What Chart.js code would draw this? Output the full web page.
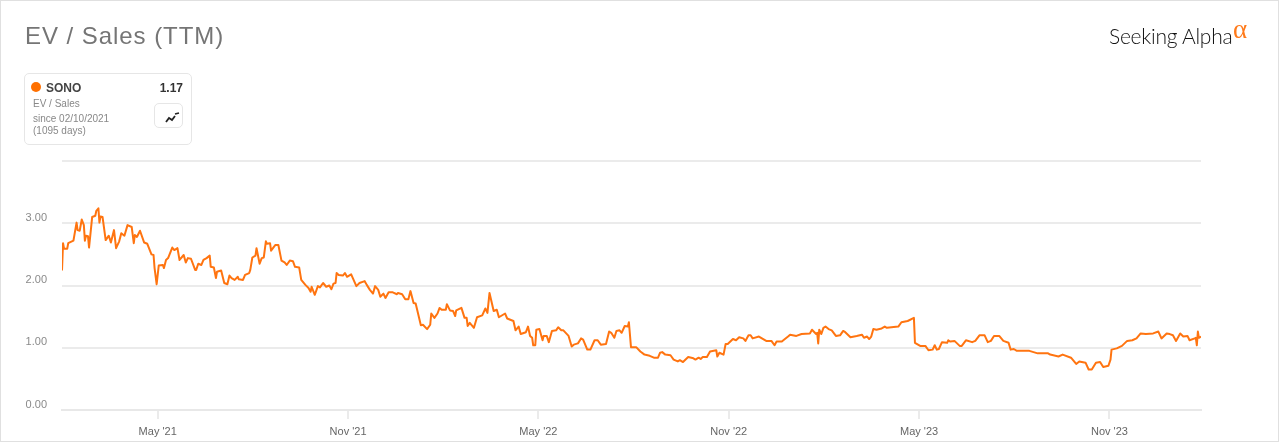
<!DOCTYPE html>
<html>
<head>
<meta charset="utf-8">
<title>EV / Sales (TTM)</title>
<script src="https://cdn.jsdelivr.net/npm/chart.js@4"></script>
<style>
html, body { margin: 0; padding: 0; background: #fff; }
#wrap { position: relative; width: 1280px; height: 442px; overflow: hidden; font-family: "Liberation Sans", Arial, sans-serif; }
#frame { position: absolute; left: 0; top: 0; width: 1277px; height: 440px; border: 1px solid #e0e0e0; }
#title { position: absolute; left: 25px; top: 22px; font-size: 24px; letter-spacing: 0.95px; color: #757575; line-height: 28px; }
#logo { position: absolute; left: 1109px; top: 22px; font-family: Lato, sans-serif; font-size: 21px; font-weight: 300; color: #111; line-height: 28px; letter-spacing: -0.25px; white-space: nowrap; }
#logo span { position: absolute; left: 124px; top: -7px; color: #ff7a1a; font-size: 27px; font-family: "Liberation Serif", serif; font-weight: normal; }
#box { position: absolute; left: 24px; top: 73px; width: 166px; height: 70px; border: 1px solid #e6e6e6; border-radius: 5px; background: #fff; }
#dot { position: absolute; left: 6px; top: 8px; width: 10px; height: 10px; border-radius: 50%; background: #ff7000; }
#sym { position: absolute; left: 21px; top: 7px; font-size: 12px; font-weight: bold; color: #444; }
#val { position: absolute; right: 8px; top: 7px; font-size: 12px; font-weight: bold; color: #333; }
#sub { position: absolute; left: 8px; top: 24px; font-size: 10px; color: #888; }
#since { position: absolute; left: 8px; top: 39px; font-size: 10px; line-height: 12px; color: #888; }
#btn { position: absolute; left: 129px; top: 29px; width: 27px; height: 23px; border: 1px solid #e6e6e6; border-radius: 5px; }
#btn svg { position: absolute; left: 0; top: 0; }
canvas { position: absolute; left: 0; top: 0; }
</style>
</head>
<body>
<div id="wrap">
  <canvas id="Activity" width="1280" height="442"></canvas>
  <div id="frame"></div>
  <div id="title">EV / Sales (TTM)</div>
  <div id="logo">Seeking Alpha<span>α</span></div>
  <div id="box">
    <div id="dot"></div>
    <div id="sym">SONO</div>
    <div id="val">1.17</div>
    <div id="sub">EV / Sales</div>
    <div id="since">since 02/10/2021<br>(1095 days)</div>
    <div id="btn"><svg width="27" height="23"><path d="M11 18 L14 14 L17 16 L20 12 M20 10 L24 9" fill="none" stroke="#222" stroke-width="1.8"/></svg></div>
  </div>
</div>
<script>
// day number on the axis
const days = [
  0,1,2,5,6,11,14,15,17,19,21,22,23,25,26,29,32,33,35,36,37,39,42,45,47,50,52,55,57,60,63,67,69,70,72,75,79,82,86,88,
  89,91,93,97,98,100,102,106,108,111,113,117,119,121,124,128,129,131,134,136,139,142,143,146,148,149,153,156,159,161,
  163,166,169,170,174,176,180,181,183,186,187,190,192,194,196,197,200,201,205,208,211,214,216,219,222,224,228,230,234,237,
  239,240,243,246,248,251,254,257,259,261,263,264,266,270,272,274,278,283,286,291,293,296,299,301,304,306,309,311,314,318,
  322,323,327,330,333,335,338,340,345,347,351,354,355,358,361,363,365,369,370,373,376,378,379,384,387,389,390,392,396,399,
  404,407,409,411,415,418,420,426,428,434,436,439,441,446,448,450,452,453,455,456,459,462,463,466,468,471,475,477,480,482,
  487,490,492,496,499,501,505,508,512,515,518,523,526,528,531,533,536,538,541,544,545,547,552,556,560,565,569,573,
  575,577,580,585,588,592,594,597,602,607,609,612,614,616,620,623,629,630,632,636,638,640,645,648,651,655,657,660,662,664,
  670,677,682,685,687,692,698,700,706,711,719,721,725,726,727,728,730,732,734,737,740,744,748,751,753,758,764,769,771,774,
  776,778,780,783,788,791,793,804,807,813,819,820,825,830,833,837,839,841,843,846,851,852,854,858,863,865,869,875,878,882,
  887,890,893,896,901,905,910,912,915,918,925,930,938,948,950,958,962,970,975,978,984,987,990,994,998,1001,1006,1008,1009,1014,
  1019,1024,1029,1033,1037,1042,1049,1054,1057,1062,1065,1068,1071,1073,1075,1078,1082,1084,1089,1090,1091,1092,1093,1095
];
const evSales = [
  2.24,2.68,2.59,2.59,2.68,2.72,3.01,2.89,2.88,3.06,2.97,2.72,2.80,2.79,2.61,3.10,3.12,3.20,3.24,3.01,3.11,3.10,2.73,2.80,2.69,2.89,2.60,2.71,2.84,2.80,2.97,2.94,2.68,2.81,2.78,2.88,2.69,2.67,2.50,2.49,
  2.28,2.02,2.32,2.33,2.28,2.41,2.44,2.61,2.57,2.60,2.41,2.49,2.37,2.44,2.43,2.25,2.25,2.35,2.33,2.41,2.44,2.48,2.30,2.29,2.12,2.22,2.24,2.04,2.02,2.16,
  2.12,2.09,2.14,2.10,2.09,2.17,2.20,2.25,2.45,2.48,2.60,2.35,2.44,2.45,2.71,2.67,2.68,2.56,2.65,2.65,2.40,2.37,2.33,2.40,2.39,2.30,2.29,2.09,2.01,1.96,
  1.90,1.98,1.85,1.99,1.97,2.04,1.98,2.00,1.94,2.03,2.04,2.20,2.17,2.16,2.20,2.14,2.18,1.99,2.04,2.07,2.01,1.93,1.87,1.99,1.93,1.82,1.87,1.80,1.89,1.89,
  1.86,1.88,1.86,1.78,1.78,1.91,1.72,1.71,1.36,1.37,1.30,1.37,1.55,1.48,1.55,1.64,1.61,1.61,1.70,1.60,1.59,1.51,1.60,1.64,1.48,1.48,1.35,1.40,1.32,1.49,
  1.52,1.63,1.56,1.88,1.59,1.61,1.49,1.55,1.47,1.43,1.28,1.34,1.22,1.25,1.34,1.19,1.16,1.04,1.04,1.29,1.30,1.12,1.19,1.19,1.09,1.27,1.28,1.33,1.28,1.28,
  1.19,1.02,1.05,1.07,1.15,1.13,0.97,0.97,1.12,1.12,1.05,1.06,1.26,1.24,1.16,1.27,1.28,1.24,1.35,1.34,1.41,1.01,1.01,0.94,0.89,0.87,0.84,0.84,
  0.92,0.93,0.89,0.88,0.81,0.78,0.80,0.77,0.85,0.83,0.81,0.84,0.82,0.85,0.85,0.94,0.96,0.86,0.92,0.89,1.06,1.06,1.14,1.12,1.17,1.15,1.11,1.20,1.20,1.15,
  1.18,1.11,1.11,1.04,1.10,1.10,1.18,1.21,1.19,1.22,1.23,1.29,1.22,1.24,1.07,1.29,1.22,1.32,1.34,1.30,1.28,1.19,1.20,1.27,1.25,1.17,1.19,1.21,1.16,1.18,
  1.14,1.18,1.30,1.29,1.31,1.34,1.32,1.34,1.41,1.43,1.48,1.08,1.03,1.03,0.96,0.97,1.04,0.97,0.98,1.09,1.08,1.12,1.10,1.11,1.03,1.03,1.12,1.09,1.11,1.20,
  1.20,1.09,1.11,1.19,1.19,1.11,1.08,0.97,0.98,0.95,0.95,0.95,0.91,0.91,0.89,0.86,0.89,0.84,0.74,0.78,0.76,0.65,0.65,0.76,0.77,0.69,0.71,0.81,0.97,0.99,
  1.03,1.11,1.12,1.15,1.23,1.22,1.23,1.26,1.15,1.23,1.22,1.20,1.11,1.17,1.23,1.18,1.19,1.12,1.15,1.16,1.04,1.26,1.16,1.18
];
const xTickDays = [92, 275, 458, 641, 824, 1007];
const xTickLabels = ["May '21", "Nov '21", "May '22", "Nov '22", "May '23", "Nov '23"];
const yTicks = [0, 1, 2, 3, 4];

const points = days.map((d, i) => ({ x: d, y: evSales[i] }));

new Chart(document.getElementById("Activity"), {
  type: 'line',
  data: {
    datasets: [{
      label: 'SONO',
      data: points,
      borderColor: '#ff7410',
      borderWidth: 2,
      pointRadius: 0,
      tension: 0,
      borderJoinStyle: 'round'
    }]
  },
  options: {
    responsive: false,
    animation: false,
    layout: { padding: { top: 161, right: 79, bottom: 0, left: 0 } },
    plugins: { legend: { display: false }, tooltip: { enabled: false } },
    scales: {
      x: {
        type: 'linear',
        min: 0,
        max: 1095,
        afterBuildTicks: axis => { axis.ticks = xTickDays.map(v => ({ value: v })); },
        afterFit: axis => { axis.height = 32; },
        grid: { drawOnChartArea: false, drawTicks: true, tickLength: 9, color: '#ebebeb', lineWidth: 2 },
        border: { color: '#e8e8e8', width: 2 },
        ticks: {
          autoSkip: false,
          maxRotation: 0,
          padding: 6,
          color: '#666',
          font: { family: '"Liberation Sans"', size: 11 },
          callback: v => xTickLabels[xTickDays.indexOf(v)]
        }
      },
      y: {
        min: 0,
        max: 4,
        afterBuildTicks: axis => { axis.ticks = yTicks.map(v => ({ value: v })); },
        afterFit: axis => { axis.width = 62; },
        grid: { drawTicks: false, color: '#ebebeb', lineWidth: 2 },
        border: { display: false },
        ticks: {
          padding: 15,
          color: '#8a8a8a',
          font: { family: '"Liberation Sans"', size: 11, lineHeight: 1 },
          // blank second line lifts the label above its gridline
          callback: v => v === 4 ? '' : [v.toFixed(2), '']
        }
      }
    }
  }
});
</script>
</body>
</html>
